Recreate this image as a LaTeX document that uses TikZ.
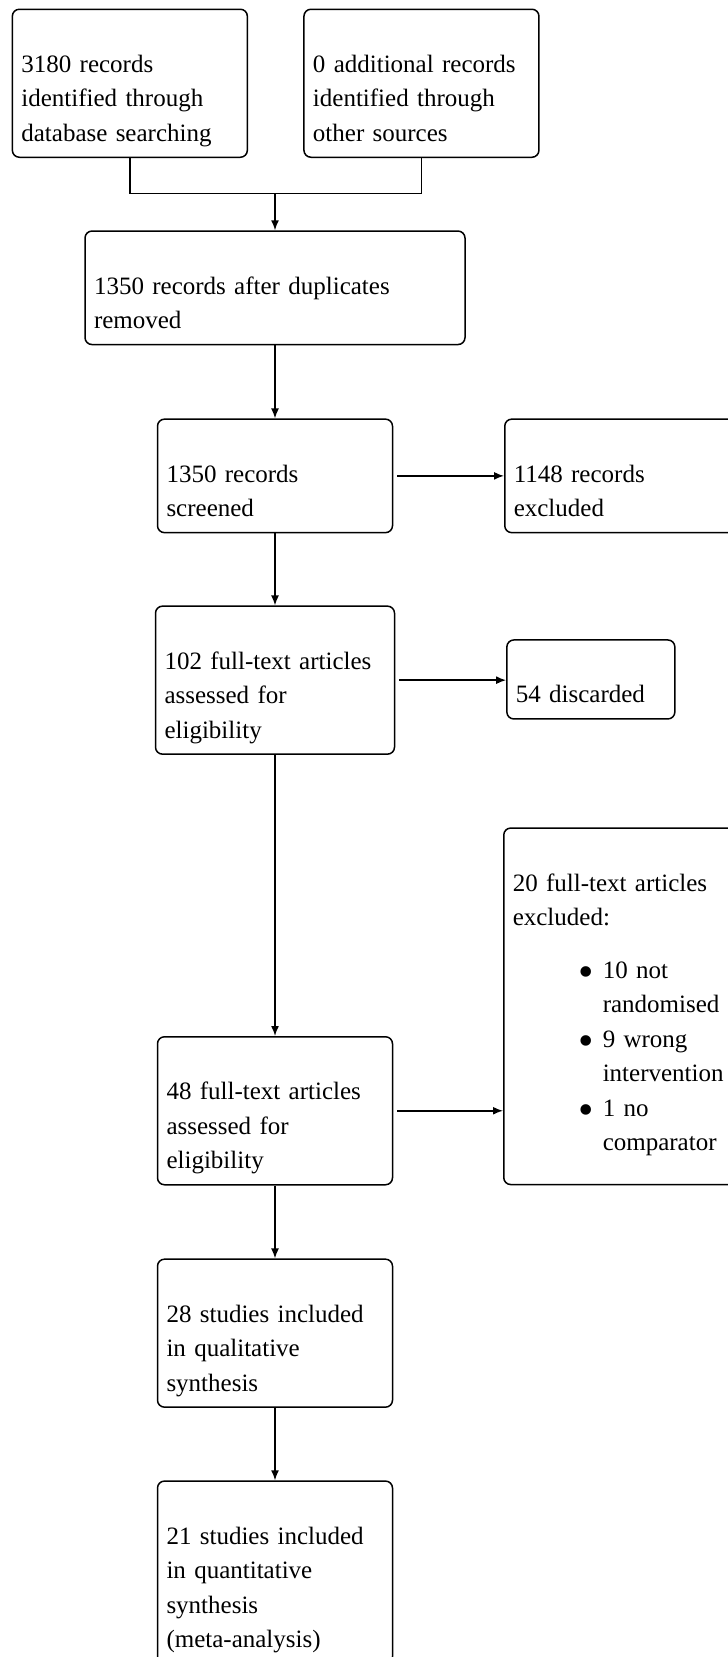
\documentclass[tikz,border=0pt]{standalone}
\usepackage{fontspec}
\setmainfont{Liberation Serif}
\usetikzlibrary{arrows.meta}

\newcommand{\bul}[1]{\hspace*{66pt}\makebox[24pt][l]{\raisebox{-8pt}{\fontsize{44}{0}\selectfont\textbullet}}#1}
\newcommand{\cont}[1]{\hspace*{90pt}#1}

\begin{document}
\begin{tikzpicture}[>={Latex[length=10pt,width=8pt]}, line width=1.5pt, x=1pt, y=-1pt,
    box/.style={draw, rounded corners=7pt, align=left, anchor=north,
        inner xsep=9pt, inner ysep=0pt, text width=217pt,
        font=\fontsize{25}{34.5}\selectfont,
        execute at begin node=\rule{0pt}{63pt},
        execute at end node=\rule[-16pt]{0pt}{16pt}}]

    \useasboundingbox (0,0) rectangle (728,1657);

    % the two sources at the top
    \node[box, anchor=north west] (src) at (11.6,8.5) {3180 records\\identified through\\database searching};
    \node[box, anchor=north west] (add) at (303.2,8.5) {0 additional records\\identified through\\other sources};

    \coordinate (join) at (275,193.4);
    \draw (src.south) |- (join) -| (add.south);

    \node[box, text width=362pt] (dedup) at (275,230.3) {1350 records after duplicates\\removed};
    \draw[->] (join) -- (dedup.north);

    % main column
    \node[box] (scr) at (275,418.4) {1350 records\\screened};
    \node[box, text width=221pt] (full) at (275,605.4) {102 full-text articles\\assessed for\\eligibility};
    \node[box] (elig) at (275,1036) {48 full-text articles\\assessed for\\eligibility};
    \node[box] (qual) at (275,1258.4) {28 studies included\\in qualitative\\synthesis};
    \node[box] (quant) at (275,1480.3) {21 studies included\\in quantitative\\synthesis\\(meta-analysis)};

    % exclusions on the right
    \node[box, anchor=north west] (excl) at (504,418.4) {1148 records\\excluded};
    \node[box, anchor=north west, text width=150pt] (disc) at (506.1,639.2) {54 discarded};
    \node[box, anchor=north west] (why) at (503,827.3) {20 full-text articles\\excluded:\\[18pt]\bul{10 not}\\\cont{randomised}\\\bul{9 wrong}\\\cont{intervention}\\\bul{1 no}\\\cont{comparator}\rule[-34pt]{0pt}{0pt}};

    \draw[->] (dedup.south) -- (scr.north);
    \draw[->] (scr.south) -- (full.north);
    \draw[->] (full.south) -- (elig.north);
    \draw[->] (elig.south) -- (qual.north);
    \draw[->] (qual.south) -- (quant.north);

    \draw[->, shorten <=4pt] (scr.east) -- (scr.east -| excl.west);
    \draw[->, shorten <=4pt] (full.east) -- (full.east -| disc.west);
    \draw[->, shorten <=4pt] (elig.east) -- (elig.east -| why.west);
\end{tikzpicture}
\end{document}
